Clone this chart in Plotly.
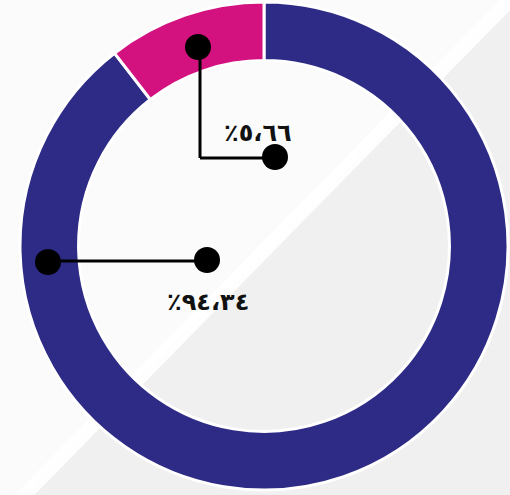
import plotly.graph_objects as go

# ---- data ----
categories = ["الفئة الثانية", "الفئة الأولى"]
label_values = [94.34, 5.66]          # percentages printed on the chart
arc_shares = [89.5, 10.5]             # share of the ring each arc occupies as drawn
colors = ["#2D2B86", "#D3127F"]

AR_DIGITS = str.maketrans("0123456789.", "٠١٢٣٤٥٦٧٨٩،")


def ar_pct(v):
    return "٪" + f"{v:.2f}".translate(AR_DIGITS)


labels_txt = [ar_pct(v) for v in label_values]

W, H = 510, 495


def px(x):
    return x / W


def py(y):
    return 1 - y / H


fig = go.Figure()
fig.add_trace(go.Pie(
    labels=categories,
    values=arc_shares,
    sort=False,
    direction="clockwise",
    rotation=0,
    hole=0.76,
    marker=dict(colors=colors, line=dict(color="white", width=3)),
    textinfo="none",
    hoverinfo="none",
    showlegend=False,
    domain=dict(x=[px(20), px(508)], y=[py(490), py(2)]),
))

shapes = []
# soft background: lighter upper-left half, bright diagonal streak, light band top-right
shapes.append(dict(type="path", xref="paper", yref="paper", layer="below",
                   path=f"M {px(-10)},{py(-10)} L {px(520)},{py(-10)} L {px(-10)},{py(530)} Z",
                   fillcolor="rgba(255,255,255,0.7)", line=dict(width=0)))
shapes.append(dict(type="path", xref="paper", yref="paper", layer="below",
                   path=f"M {px(500)},{py(0)} L {px(520)},{py(0)} L {px(0)},{py(530)} L {px(0)},{py(510)} Z",
                   fillcolor="rgba(255,255,255,0.9)", line=dict(width=0)))
shapes.append(dict(type="path", xref="paper", yref="paper", layer="below",
                   path=f"M {px(560)},{py(0)} L {px(600)},{py(0)} L {px(510)},{py(95)} L {px(510)},{py(45)} Z",
                   fillcolor="rgba(255,255,255,0.6)", line=dict(width=0)))

# leader lines
line_style = dict(color="black", width=3)
shapes += [
    dict(type="line", xref="paper", yref="paper", x0=px(200), y0=py(47), x1=px(200), y1=py(158), line=line_style),
    dict(type="line", xref="paper", yref="paper", x0=px(200), y0=py(158), x1=px(275), y1=py(158), line=line_style),
    dict(type="line", xref="paper", yref="paper", x0=px(48), y0=py(261), x1=px(206), y1=py(261), line=line_style),
]
r = 13
for (x, y) in [(198, 47), (275, 157), (48, 262), (207, 260)]:
    shapes.append(dict(type="circle", xref="paper", yref="paper",
                       x0=px(x - r), x1=px(x + r), y0=py(y + r), y1=py(y - r),
                       fillcolor="black", line=dict(width=0)))

annotations = [
    dict(text=f"<b>{labels_txt[1]}</b>", x=px(258), y=py(117), xref="paper", yref="paper",
         showarrow=False, font=dict(family="DejaVu Sans", size=24, color="#111111")),
    dict(text=f"<b>{labels_txt[0]}</b>", x=px(208), y=py(302), xref="paper", yref="paper",
         showarrow=False, font=dict(family="DejaVu Sans", size=24, color="#111111")),
]

fig.update_layout(
    width=W, height=H,
    margin=dict(l=0, r=0, t=0, b=0),
    paper_bgcolor="#F0F0F0",
    plot_bgcolor="#F0F0F0",
    shapes=shapes,
    annotations=annotations,
)

fig.write_html("out.html", config={"displayModeBar": False},
               post_script="document.body.style.margin='0';")
